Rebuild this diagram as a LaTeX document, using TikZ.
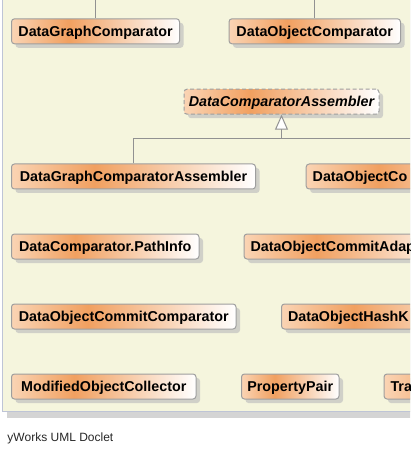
\documentclass[tikz,border=0pt]{standalone}
\usepackage{fontspec}
\setmainfont{Liberation Sans}
\usetikzlibrary{shadows,arrows.meta}
\definecolor{panel}{RGB}{245,245,221}
\definecolor{panelborder}{RGB}{190,196,214}
\definecolor{panelshadow}{RGB}{212,212,212}
\definecolor{gl}{RGB}{250,212,180}
\definecolor{gm}{RGB}{241,160,96}
\definecolor{nodeborder}{RGB}{158,158,158}
\definecolor{nshadow}{RGB}{208,208,200}
\definecolor{edgec}{RGB}{145,145,145}
\pgfdeclarehorizontalshading{clsgrad}{100bp}{color(0bp)=(gl); color(25bp)=(gl); color(42bp)=(gm); color(75bp)=(white); color(100bp)=(white)}
\begin{document}
\begin{tikzpicture}[x=1bp,y=-1bp,
 cls/.style={draw=nodeborder, line width=1bp, rounded corners=3bp, shade, shading=clsgrad,
   anchor=north west, minimum height=25bp, inner xsep=0pt, inner ysep=0pt,
   text height=12.4bp, text depth=2bp,
   font=\fontsize{14.3bp}{16bp}\selectfont\bfseries,
   drop shadow={shadow xshift=4bp, shadow yshift=-4bp, fill=nshadow, opacity=1, draw=none}},
 abstractcls/.style={cls, dash pattern=on 4bp off 2.5bp, font=\fontsize{14.3bp}{16bp}\selectfont\bfseries\itshape},
 cutcls/.style={cls, text width=200bp, align=left, inner xsep=6.5bp},
 edge/.style={draw=edgec, line width=1bp}]
\useasboundingbox (0,0) rectangle (410,454);
\clip (0,0) rectangle (410,454);
% panel
\fill[panelshadow] (7,-10) rectangle (430,417.5);
\fill[panel] (2.5,-10) rectangle (430,411.5);
\draw[panelborder, line width=1bp] (2.5,-10) -- (2.5,411.5) -- (430,411.5);
% nodes
\node[cls, minimum width=168bp] (dgc) at (11,18.3) {DataGraphComparator};
\node[cls, minimum width=171.5bp] (doc) at (228.5,18.3) {DataObjectComparator};
\node[abstractcls, minimum width=195bp] (dca) at (183.5,88.7) {DataComparatorAssembler};
\node[cls, minimum width=244bp] (dgca) at (11,163.5) {DataGraphComparatorAssembler};
\node[cutcls] (doco) at (305.7,163.5) {DataObjectCo};
\node[cls, minimum width=187.5bp] (dcpi) at (11,233.5) {DataComparator.PathInfo};
\node[cutcls] (doca) at (243.5,233.5) {DataObjectCommitAdap};
\node[cls, minimum width=224.5bp] (docc) at (11,303.5) {DataObjectCommitComparator};
\node[cutcls] (dohk) at (281,303.5) {DataObjectHashK};
\node[cls, minimum width=184.5bp] (moc) at (11,373.5) {ModifiedObjectCollector};
\node[cls, minimum width=97.5bp] (pp) at (241,373.5) {PropertyPair};
\node[cutcls] (tra) at (383.5,373.5) {Tra};
% connectors
\coordinate (ytop) at (0,-2);
\coordinate (bus) at (0,138.3);
\coordinate (busend) at (430,138.3);
\draw[edge] (dgc.north) -- (dgc.north |- ytop);
\draw[edge] (doc.north) -- (doc.north |- ytop);
\draw[edge] (dgca.north) |- (busend);
\draw[edge, -{Triangle[width=13bp, length=15bp, fill=white]}] (dca.south |- bus) -- (dca.south);
% footer
\node[anchor=base west, inner sep=0pt, text=black!85, font=\fontsize{12bp}{14bp}\selectfont] (foot) at (7.3,441.7) {yWorks UML Doclet};
\end{tikzpicture}
\end{document}
